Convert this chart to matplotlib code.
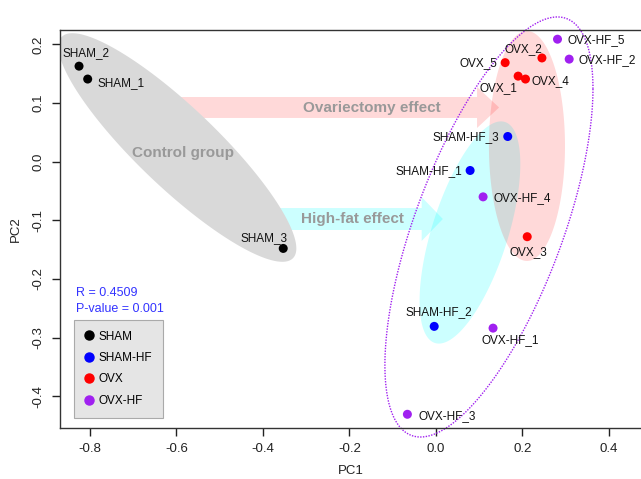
import numpy as np
import matplotlib
matplotlib.use("Agg")
import matplotlib.pyplot as plt
from matplotlib.patches import Polygon
from matplotlib.lines import Line2D

plt.rcParams['font.family'] = ['Liberation Sans', 'DejaVu Sans']
plt.rcParams['axes.unicode_minus'] = False

# sample scores on the first two components
samples = ['SHAM_1', 'SHAM_2', 'SHAM_3',
           'SHAM-HF_1', 'SHAM-HF_2', 'SHAM-HF_3',
           'OVX_1', 'OVX_2', 'OVX_3', 'OVX_4', 'OVX_5',
           'OVX-HF_1', 'OVX-HF_2', 'OVX-HF_3', 'OVX-HF_4', 'OVX-HF_5']
pc1 = [-0.805, -0.825, -0.353,
       0.079, -0.004, 0.166,
       0.190, 0.245, 0.211, 0.207, 0.160,
       0.132, 0.308, -0.066, 0.109, 0.281]
pc2 = [0.141, 0.163, -0.148,
       -0.015, -0.281, 0.043,
       0.146, 0.177, -0.128, 0.141, 0.169,
       -0.284, 0.175, -0.431, -0.060, 0.209]
group = ['SHAM'] * 3 + ['SHAM-HF'] * 3 + ['OVX'] * 5 + ['OVX-HF'] * 5

group_names = ['SHAM', 'SHAM-HF', 'OVX', 'OVX-HF']
group_colors = {'SHAM': 'black', 'SHAM-HF': '#0000ff', 'OVX': '#ff0000', 'OVX-HF': '#a020f0'}

r_value = 0.4509
p_value = 0.001

# label placement: (ha, dx, dy) in pixels from the point
lab_pos = {
    'SHAM_1': ('left', 10, -4), 'SHAM_2': ('center', 7, 13), 'SHAM_3': ('center', -19, 10),
    'SHAM-HF_1': ('right', -8, -1), 'SHAM-HF_2': ('center', 5, 14), 'SHAM-HF_3': ('right', -9, -1),
    'OVX_1': ('center', -20, -12), 'OVX_2': ('center', -19, 9), 'OVX_3': ('center', 1, -15),
    'OVX_4': ('left', 6, -2), 'OVX_5': ('right', -8, 0),
    'OVX-HF_1': ('center', 17, -12), 'OVX-HF_2': ('left', 9, -1), 'OVX-HF_3': ('left', 11, -2),
    'OVX-HF_4': ('left', 10, -1), 'OVX-HF_5': ('left', 10, -1),
}


def draw_ellipse(ax, center, shape, **kw):
    t = np.linspace(0, 2 * np.pi, 300)
    L = np.linalg.cholesky(np.array(shape))
    pts = np.array(center)[:, None] + L @ np.vstack([np.cos(t), np.sin(t)])
    p = Polygon(pts.T, closed=True, **kw)
    ax.add_patch(p)
    return p


fig = plt.figure(figsize=(6.41, 4.79), dpi=100)
ax = fig.add_axes([60 / 641, 51 / 479, 581 / 641, 398 / 479])
ax.set_xlim(-0.869, 0.474)
ax.set_ylim(-0.4544, 0.2247)

# group ellipses
draw_ellipse(ax, (0.0786, -0.1208), [[0.01356, 0.01361], [0.01361, 0.03594]],
             facecolor='cyan', alpha=0.2, edgecolor='none', zorder=1)
draw_ellipse(ax, (0.2104, 0.0268), [[0.00773, 0.0], [0.0, 0.0385]],
             facecolor='red', alpha=0.15, edgecolor='none', zorder=1.1)

# effect arrows
ax.arrow(-0.599, 0.0925, 0.745, 0, width=0.0358, head_width=0.070, head_length=0.051,
         length_includes_head=True, facecolor='red', alpha=0.15, edgecolor='none', zorder=1.2)
ax.arrow(-0.363, -0.0978, 0.379, 0, width=0.0375, head_width=0.075, head_length=0.049,
         length_includes_head=True, facecolor='cyan', alpha=0.2, edgecolor='none', zorder=1.2)

draw_ellipse(ax, (-0.5977, 0.0242), [[0.07562, -0.04731], [-0.04731, 0.03803]],
             facecolor='#d9d9d9', edgecolor='none', zorder=1.3)

draw_ellipse(ax, (0.1225, -0.1114), [[0.05782, 0.0567], [0.0567, 0.12842]],
             facecolor='none', edgecolor='#a020f0', lw=1, linestyle=(0, (1, 1)),
             clip_on=False, zorder=2)

ax.text(-0.148, 0.0917, 'Ovariectomy effect', color='#999999', fontsize=11,
        fontweight='bold', ha='center', va='center', zorder=3)
ax.text(-0.193, -0.098, 'High-fat effect', color='#999999', fontsize=11,
        fontweight='bold', ha='center', va='center', zorder=3)
ax.text(-0.585, 0.0148, 'Control group', color='#999999', fontsize=11,
        fontweight='bold', ha='center', va='center', zorder=3)

cols = [group_colors[g] for g in group]
ax.scatter(pc1, pc2, s=42, c=cols, edgecolors='none', zorder=4)

for name, x, y in zip(samples, pc1, pc2):
    ha, dx, dy = lab_pos[name]
    ax.annotate(name, (x, y), xytext=(dx, dy), textcoords='offset pixels',
                ha=ha, va='center', fontsize=8.5, color='#111111', zorder=5,
                annotation_clip=False)

ax.text(-0.832, -0.224, 'R = %.4f' % r_value, color='#3333ff', fontsize=9,
        ha='left', va='center')
ax.text(-0.832, -0.2514, 'P-value = %.3f' % p_value, color='#3333ff', fontsize=9,
        ha='left', va='center')

handles = [Line2D([], [], marker='o', ls='', color=group_colors[g], markersize=6.5)
           for g in group_names]
leg = ax.legend(handles, group_names, loc='upper left', bbox_to_anchor=(0.0241, 0.2714),
                borderaxespad=0, fontsize=8.5, frameon=True, fancybox=False,
                framealpha=1, facecolor='#e5e5e5', edgecolor='#aaaaaa',
                borderpad=0.9, labelspacing=0.8, handlelength=0.7, handletextpad=0.5)
leg.get_frame().set_linewidth(0.8)

xt = [-0.8, -0.6, -0.4, -0.2, 0.0, 0.2, 0.4]
yt = [-0.4, -0.3, -0.2, -0.1, 0.0, 0.1, 0.2]
ax.set_xticks(xt)
ax.set_xticklabels(['%.1f' % v for v in xt])
ax.set_yticks(yt)
ax.set_yticklabels(['%.1f' % v for v in yt], rotation=90, va='center')
ax.tick_params(length=6, width=1, pad=5, labelsize=9.5, colors='#222222')
ax.spines['right'].set_visible(False)
for s in ['left', 'bottom', 'top']:
    ax.spines[s].set_color('#333333')
    ax.spines[s].set_linewidth(1)

ax.set_xlabel('PC1', fontsize=9.5, labelpad=7, color='#222222')
ax.set_ylabel('PC2', fontsize=9.5, labelpad=8, color='#222222')

fig.savefig('out.png', dpi=100)
